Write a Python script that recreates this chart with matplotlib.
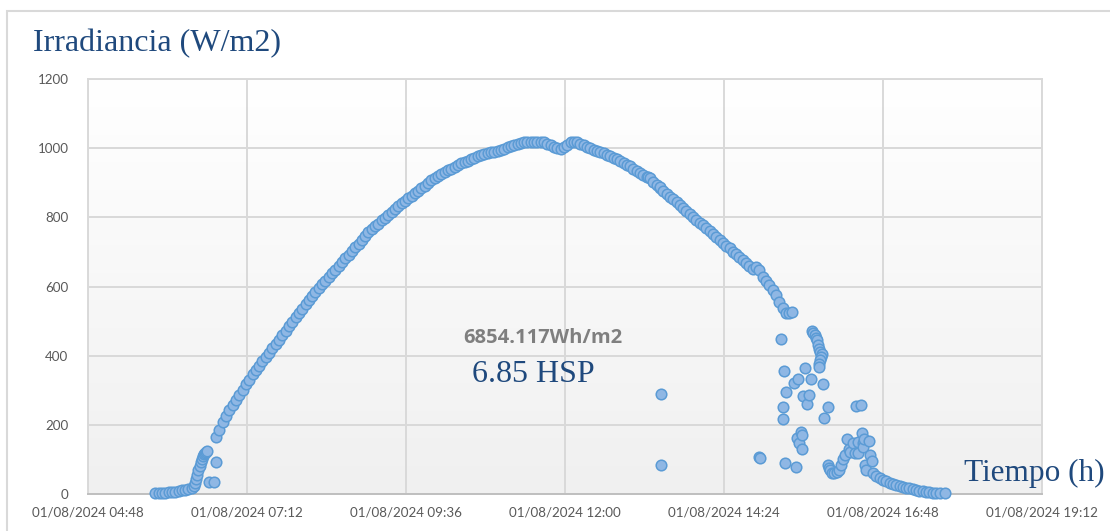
import matplotlib
matplotlib.use("Agg")
import matplotlib.pyplot as plt
import numpy as np
from matplotlib.colors import LinearSegmentedColormap
from matplotlib.ticker import FuncFormatter
from matplotlib.patches import Rectangle

# ---- data: time in minutes since midnight (01/08/2024), irradiance in W/m2 ----
early_t = [349, 352, 355, 358, 361, 364, 367, 370, 373, 376, 379, 382, 384, 385, 386,
           387, 388, 389, 390, 391, 392, 393, 394, 395, 396, 398, 402, 404]
early_v = [2, 3, 3, 4, 5, 6, 7, 9, 11, 13, 15, 18, 24, 33, 44,
           56, 68, 80, 92, 102, 110, 116, 120, 122, 124, 35, 35, 93]

main_t = [404, 407, 410, 413, 416, 419, 422, 425, 428, 431, 434, 437, 440, 443, 446, 449,
          452, 455, 458, 461, 464, 467, 470, 473, 476, 479, 482, 485, 488, 491, 494, 497,
          500, 503, 506, 509, 512, 515, 518, 521, 524, 527, 530, 533, 536, 539, 542, 545,
          548, 551, 554, 557, 560, 563, 566, 569, 572, 575, 578, 581, 584, 587, 590, 593,
          596, 599, 602, 605, 608, 611, 614, 617, 620, 623, 626, 629, 632, 635, 638, 641,
          644, 647, 650, 653, 656, 659, 662, 665, 668, 671, 674, 677, 680, 683, 686, 689,
          692, 695, 698, 701, 704, 707, 710, 713, 716, 719, 722, 725, 728, 731, 734, 737,
          740, 743, 746, 749, 752, 755, 758, 761, 764, 767, 770, 773, 776, 779, 782, 785,
          788, 791, 794, 795, 797, 800, 803, 806, 806, 809, 812, 815, 818, 821, 824, 827,
          830, 833, 836, 839, 842, 845, 848, 851, 854, 857, 860, 863, 866, 869, 872, 875,
          878, 881, 884, 887, 890, 893, 896, 899, 902, 905, 908, 911, 914, 917, 920, 923, 926]
main_v = [165, 186, 207, 225, 242, 258, 273, 287, 302, 317, 331, 346, 359, 371, 384, 396,
          408, 421, 433, 446, 459, 472, 486, 498, 511, 523, 536, 548, 560, 572, 583, 595,
          606, 617, 627, 638, 648, 659, 670, 681, 692, 702, 713, 724, 735, 746, 757, 766,
          774, 782, 791, 799, 807, 816, 824, 832, 840, 848, 855, 862, 870, 877, 885, 892,
          900, 907, 913, 919, 925, 930, 936, 941, 946, 951, 956, 960, 964, 968, 972, 976,
          979, 982, 985, 988, 990, 993, 996, 999, 1002, 1005, 1008, 1011, 1014, 1017, 1017, 1017,
          1017, 1018, 1018, 1017, 1013, 1009, 1004, 1001, 999, 1003, 1010, 1018, 1018, 1018, 1013, 1009,
          1004, 1000, 996, 993, 989, 985, 981, 977, 972, 968, 963, 957, 952, 947, 941, 935,
          929, 922, 916, 918, 914, 902, 893, 885, 888, 877, 868, 860, 852, 843, 835, 827,
          818, 810, 802, 793, 785, 777, 768, 760, 752, 743, 735, 727, 718, 710, 701, 693,
          684, 676, 667, 659, 650, 656, 648, 628, 616, 604, 590, 576, 554, 538, 524, 522, 527]

late_t = [807, 807, 896, 897, 916, 918, 917, 917, 919, 920, 927, 929, 930, 931, 932, 934,
          935, 935, 936, 937, 939, 941, 943, 944, 945, 946, 947, 948, 949, 950, 951, 953,
          952, 951, 950, 950, 954, 955, 958, 958, 959, 960, 962, 964, 966, 968, 970, 972,
          974, 975, 977, 978, 981, 983, 984, 985, 985, 988, 989, 990, 990, 991, 992, 993,
          995, 996, 998, 999]
late_v = [288, 85, 107, 105, 448, 356, 252, 217, 90, 295, 321, 78, 162, 332, 147, 179,
          171, 130, 283, 364, 260, 286, 332, 470, 466, 460, 452, 445, 432, 420, 412, 405,
          395, 387, 377, 367, 318, 220, 252, 84, 75, 68, 61, 60, 64, 70, 84, 100,
          113, 159, 130, 121, 147, 119, 254, 150, 119, 257, 176, 147, 136, 160, 84, 69,
          153, 113, 95, 61]

tail_t = [1002, 1005, 1008, 1011, 1014, 1017, 1020, 1023, 1026, 1029, 1032, 1035, 1038,
          1041, 1044, 1047, 1050, 1053, 1056, 1060, 1064]
tail_v = [52, 46, 41, 37, 33, 30, 27, 24, 21, 18, 16, 14, 12, 10, 8, 6, 5, 4, 3, 2, 2]

x_ticks = [288, 432, 576, 720, 864, 1008, 1152]
y_ticks = [0, 200, 400, 600, 800, 1000, 1200]
date_label = "01/08/2024"

# ---- figure ----
W, H = 1110, 531
fig = plt.figure(figsize=(W / 100, H / 100), dpi=100)
fig.patch.set_facecolor("white")

# outer chart frame
fig.patches.append(Rectangle((7 / W, -0.05), 1.2, 1 - 11 / H + 0.05, transform=fig.transFigure,
                             fill=False, edgecolor="#d9d9d9", linewidth=1.5))

ax = fig.add_axes([88 / W, 37 / H, (1042 - 88) / W, (494 - 79) / H])

grad = np.linspace(0, 1, 256).reshape(-1, 1)
cmap = LinearSegmentedColormap.from_list("bg", ["#ffffff", "#f0f0f0"])
ax.imshow(grad, cmap=cmap, extent=[0, 1, 0, 1], transform=ax.transAxes,
          aspect="auto", zorder=0, interpolation="bilinear")

t_all = early_t + main_t + late_t + tail_t
v_all = early_v + main_v + late_v + tail_v
ax.scatter(t_all, v_all, s=58, facecolor="#8fb7e4", edgecolor="#5b9bd5",
           linewidth=1.1, zorder=3, clip_on=False)

ax.set_xlim(x_ticks[0], x_ticks[-1])
ax.set_ylim(y_ticks[0], y_ticks[-1])
ax.set_xticks(x_ticks)
ax.set_yticks(y_ticks)


def fmt_time(x, pos):
    m = int(round(x))
    return f"{date_label} {m // 60:02d}:{m % 60:02d}"


ax.xaxis.set_major_formatter(FuncFormatter(fmt_time))
ax.set_axisbelow(True)
ax.grid(True, color="#d9d9d9", linewidth=1.4, zorder=1)
for s in ["left", "right", "top"]:
    ax.spines[s].set_color("#d9d9d9")
    ax.spines[s].set_linewidth(1.4)
ax.spines["bottom"].set_color("#bfbfbf")
ax.spines["bottom"].set_linewidth(1.4)
ax.tick_params(axis="both", length=0, labelsize=9.6, labelcolor="#595959")
ax.tick_params(axis="y", pad=14)
ax.tick_params(axis="x", pad=9)
for lab in ax.get_xticklabels() + ax.get_yticklabels():
    lab.set_fontfamily("Lato")

serif_blue = "#1f497d"
fig.text(33 / W, 1 - 44 / H, "Irradiancia (W/m2)", fontsize=23, color=serif_blue,
         family="Liberation Serif", va="center", ha="left")
fig.text(1105 / W, 1 - 473 / H, "Tiempo (h)", fontsize=22.5, color=serif_blue,
         family="Liberation Serif", va="center", ha="right")
fig.text(543 / W, 1 - 338 / H, "6854.117Wh/m2", fontsize=14.5, color="#7f7f7f",
         family="Open Sans", fontweight="bold", va="center", ha="center")
fig.text(533 / W, 1 - 375 / H, "6.85 HSP", fontsize=23, color=serif_blue,
         family="Liberation Serif", va="center", ha="center")

fig.savefig("out.png", dpi=100, facecolor="white")
